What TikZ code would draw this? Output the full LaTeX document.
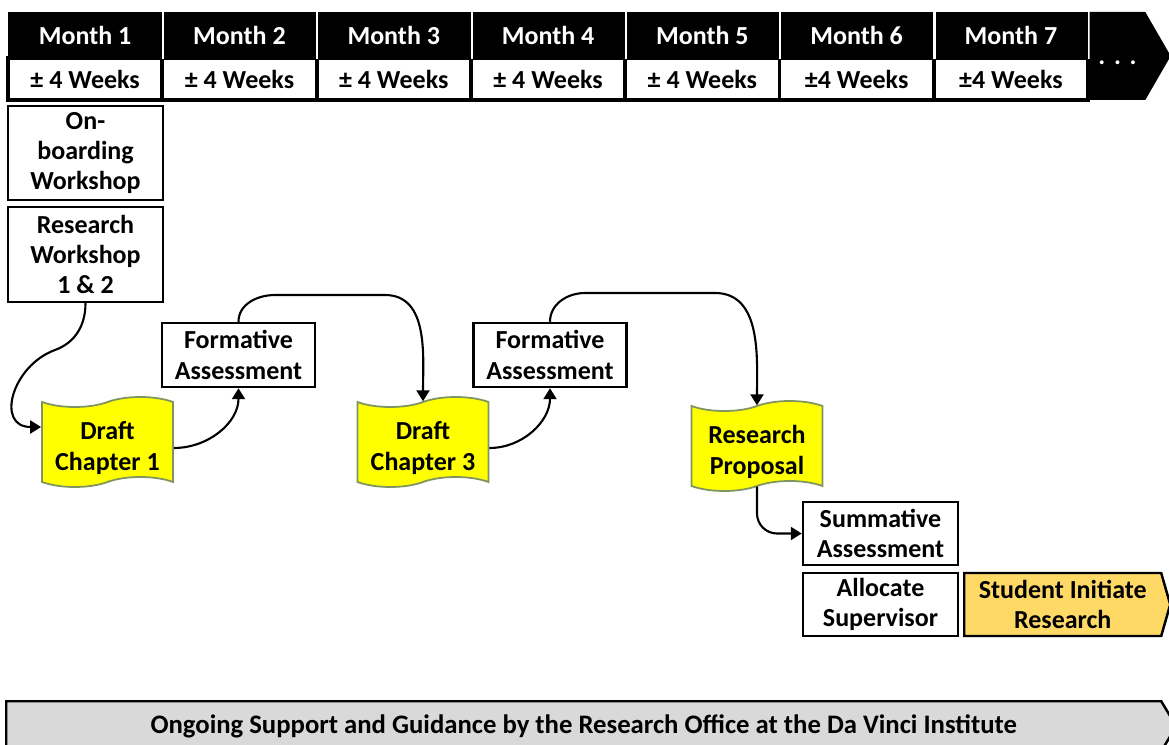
\documentclass[tikz,border=0pt]{standalone}
\usepackage{fontspec}
\setmainfont{Carlito}
\usetikzlibrary{arrows.meta,positioning,calc,shapes.symbols}

\definecolor{draftyellow}{RGB}{255,255,0}
\definecolor{draftedge}{RGB}{128,148,96}
\definecolor{startgold}{RGB}{255,217,102}
\definecolor{supportgray}{RGB}{217,217,217}
% keeps the box size, sets the lines a little lower inside the wavy shape
\newcommand{\lowtext}[1]{\raisebox{-.7mm}[\height][\depth]{\begin{tabular}{@{}c@{}}#1\end{tabular}}}

\begin{document}
\begin{tikzpicture}[x=1cm,y=1cm,>=Latex,
 font=\fontsize{7.4}{8.6}\selectfont\bfseries,
 month/.style={fill=black,text=white,minimum width=1.543cm,minimum height=.46cm,inner sep=0pt},
 weeks/.style={draw,fill=white,line width=1.1pt,minimum width=1.543cm,minimum height=.42cm,inner sep=0pt},
 box/.style={draw,fill=white,line width=.7pt,align=center,inner sep=1pt},
 draft/.style={tape,draw=draftedge,fill=draftyellow,line width=.5pt,align=center,
  minimum width=1.31cm,minimum height=.9cm,tape bend height=.1cm,inner sep=1pt},
 flow/.style={-{Triangle[length=1.1mm,width=1.3mm]},line width=.6pt}]
\path[use as bounding box,clip] (0,0) rectangle (11.69,-7.45);

% timeline header
\foreach \w [count=\i] in {± 4 Weeks,± 4 Weeks,± 4 Weeks,± 4 Weeks,± 4 Weeks,±4 Weeks,±4 Weeks}{
  \node[month] (month\i) at ({.08+(\i-.5)*1.543},-.35) {Month \i};
  \node[weeks] (weeks\i) at ({.08+(\i-.5)*1.543},-.79) {\w};
}
\foreach \i in {1,...,7}
  \draw[white,line width=.6pt] ([yshift=-.3pt]month\i.north east)--(month\i.south east);
\node[signal,signal to=east,signal pointer angle=120,fill=black,text=white,
  minimum height=.88cm,minimum width=.81cm,inner sep=0pt,anchor=west] (more) at (10.89,-.56)
  {\raisebox{-.9mm}[0pt][0pt]{.\,\,.\,\,.}};

% onboarding column
\node[box,minimum width=1.55cm,minimum height=.94cm] (onboard) at (.855,-1.53) {On-\\boarding\\Workshop};
\node[box,minimum width=1.55cm,minimum height=.95cm] (workshop) at (.855,-2.545) {Research\\Workshop\\1 \& 2};

% drafts and feedback
\node[box,minimum width=1.53cm,minimum height=.64cm] (formative1) at (2.385,-3.55) {Formative\\Assessment};
\node[box,minimum width=1.53cm,minimum height=.64cm] (formative2) at (5.50,-3.55) {Formative\\Assessment};
\node[draft] (draft1) at (1.075,-4.42) {\lowtext{Draft\\Chapter 1}};
\node[draft] (draft3) at (4.23,-4.42) {\lowtext{Draft\\Chapter 3}};
\node[draft] (proposal) at (7.57,-4.46) {\lowtext{Research\\Proposal}};
\node[box,minimum width=1.55cm,minimum height=.63cm] (summative) at (8.805,-5.335) {Summative\\Assessment};
\node[box,minimum width=1.55cm,minimum height=.63cm] (supervisor) at (8.805,-6.045) {Allocate\\Supervisor};
\node[signal,signal to=east,signal pointer angle=148,draw,fill=startgold,line width=.7pt,align=center,
  minimum height=.63cm,minimum width=2.06cm,inner sep=1pt,anchor=west] (initiate) at (9.63,-6.045) {Student Initiate\\Research};

\coordinate (loop1) at (.55,-3.5);
\coordinate (arc1a) at (2.75,-2.95);
\coordinate (arc1b) at (3.85,-2.95);
\coordinate (arc2a) at (5.85,-2.93);
\coordinate (arc2b) at (7.15,-2.93);
\draw[flow] (workshop.south) to[out=-90,in=20] (loop1) to[out=200,in=180,looseness=1.5] ([yshift=1.5mm]draft1.west);
\draw[flow] ([yshift=-.6mm]draft1.east) to[out=0,in=-90] (formative1.south);
\draw[flow] (formative1.north) to[out=90,in=180] (arc1a)--(arc1b) to[out=0,in=90] (draft3.north);
\draw[flow] ([yshift=-.6mm]draft3.east) to[out=0,in=-90] (formative2.south);
\draw[flow] (formative2.north) to[out=90,in=180] (arc2a)--(arc2b) to[out=0,in=90] (proposal.north);
\draw[flow,rounded corners=2mm] (proposal.south) |- (summative.west);

% support bar along the bottom
\node[signal,signal to=east,signal pointer angle=118,draw,fill=supportgray,line width=.7pt,
  minimum height=.5cm,minimum width=11.7cm,inner sep=0pt,anchor=north west,
  font=\fontsize{7.6}{9}\selectfont\bfseries] (support) at (.05,-7.0)
  {Ongoing Support and Guidance by the Research Office at the Da Vinci Institute};
\end{tikzpicture}
\end{document}
